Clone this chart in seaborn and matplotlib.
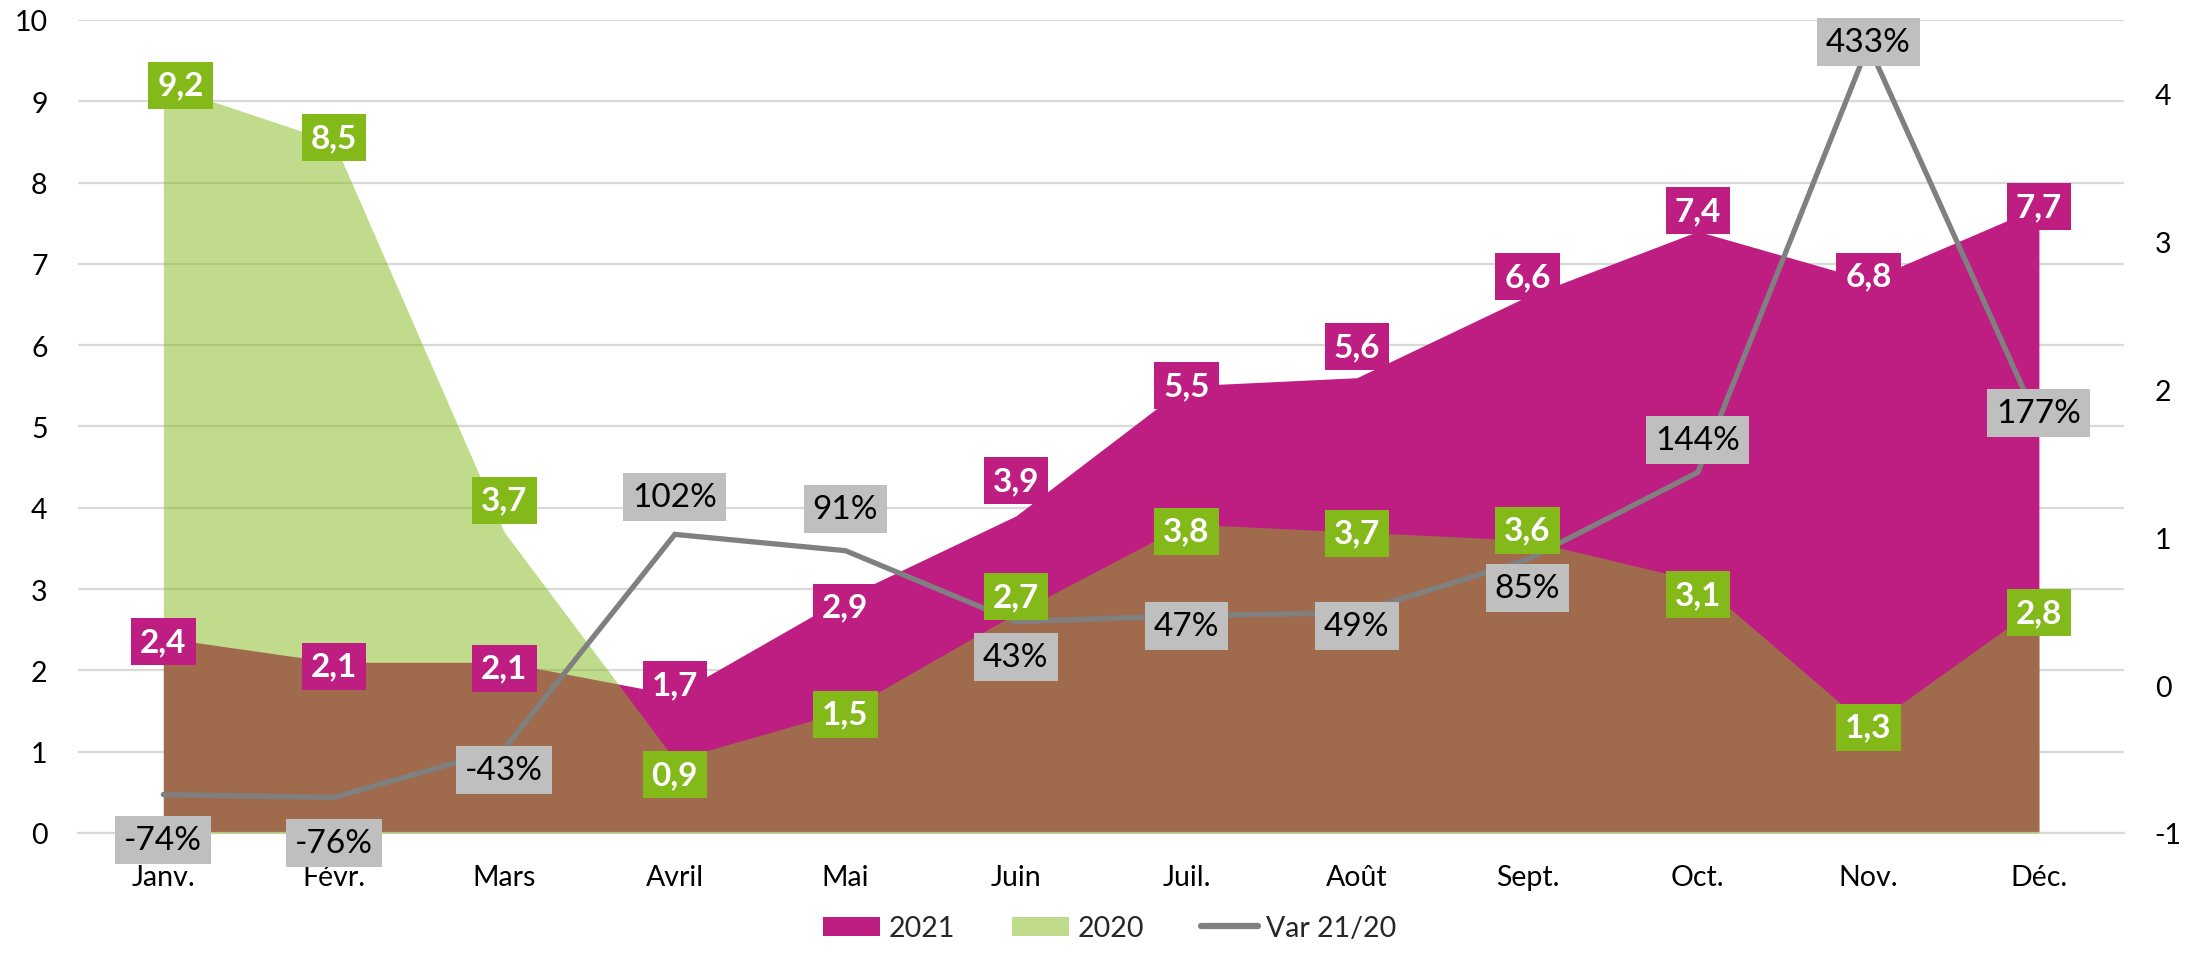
import numpy as np
import pandas as pd
import matplotlib
matplotlib.use("Agg")
import matplotlib.pyplot as plt
from matplotlib.patches import Patch
from matplotlib.lines import Line2D
import seaborn as sns

# données
mois = ['Janv.', 'Févr.', 'Mars', 'Avril', 'Mai', 'Juin', 'Juil.', 'Août', 'Sept.', 'Oct.', 'Nov.', 'Déc.']
v2021 = [2.4, 2.1, 2.1, 1.7, 2.9, 3.9, 5.5, 5.6, 6.6, 7.4, 6.8, 7.7]
v2020 = [9.2, 8.5, 3.7, 0.9, 1.5, 2.7, 3.8, 3.7, 3.6, 3.1, 1.3, 2.8]
var = [-0.74, -0.76, -0.43, 1.02, 0.91, 0.43, 0.47, 0.49, 0.85, 1.44, 4.33, 1.77]

# décalage vertical des étiquettes (px, vers le haut)
dy2021 = [-4, -4, -6, 10, -10, 35, 0, 31, 20, 21, 4, 0]
dy2020 = [0, 4, 32, -15, -3, 17, -7, -1, 10, -14, 0, -7]
dyvar = [-45, -45, -21, 37, 42, -35, -10, -13, -28, 32, 3, 11]

MAG = '#BE1E82'
VERT = '#84B91A'
GRIS = '#808080'
GRILLE = '#D9D9D9'

sns.set_theme(style='white')
plt.rcParams['font.family'] = ['Lato', 'DejaVu Sans']
plt.rcParams['axes.unicode_minus'] = False

df = pd.DataFrame({'x': np.arange(len(mois)), 'mois': mois,
                   'v2021': v2021, 'v2020': v2020, 'var': var})

fig = plt.figure(figsize=(22.06, 9.54), dpi=100)
ax = fig.add_axes([0.0354, 0.1258, 0.9275, 0.8522])

ax.fill_between(df['x'], 0, df['v2021'], color=MAG, lw=0, zorder=2)
ax.fill_between(df['x'], 0, df['v2020'], color=VERT, alpha=0.5, lw=0, zorder=3)

ax.set_xlim(-0.5, 11.5)
ax.set_ylim(0, 10)
ax.set_yticks(range(0, 11))
ax.set_axisbelow(True)
ax.yaxis.grid(True, color=GRILLE, lw=1.6)
ax.set_xticks(df['x'])
ax.set_xticklabels(mois)
ax.set_xticks(np.arange(-0.5, 12, 1), minor=True)
ax.tick_params(axis='x', which='major', length=0, pad=22, labelsize=20.5, colors='black')
ax.tick_params(axis='x', which='minor', length=7, width=1.6, color=GRILLE)
ax.tick_params(axis='y', length=0, pad=22, labelsize=20.5, colors='black')
for s in ['left', 'right', 'top']:
    ax.spines[s].set_visible(False)
ax.spines['bottom'].set_color(GRILLE)
ax.spines['bottom'].set_linewidth(1.6)

ax2 = ax.twinx()
sns.lineplot(data=df, x='x', y='var', ax=ax2, color=GRIS, linewidth=3.8,
             legend=False, solid_capstyle='round', solid_joinstyle='miter')
ax2.set_ylim(-1, 4.5)
ax2.set_yticks(range(-1, 5))
ax2.tick_params(axis='y', length=0, pad=22, labelsize=20.5, colors='black')
ax2.set_ylabel('')
ax2.set_xlabel('')
for s in ax2.spines.values():
    s.set_visible(False)

# étiquettes de données
def fr(v):
    return f"{v:.1f}".replace('.', ',')

for i in range(len(mois)):
    ax2.annotate(fr(v2021[i]), xy=(i, v2021[i]), xycoords=ax.transData,
                 xytext=(0, dy2021[i]), textcoords='offset pixels',
                 ha='center', va='center', fontsize=24, fontweight='bold', color='white',
                 bbox=dict(boxstyle='square,pad=0.27', fc=MAG, ec='none'), zorder=5)
    ax2.annotate(fr(v2020[i]), xy=(i, v2020[i]), xycoords=ax.transData,
                 xytext=(17 if i == 0 else 0, dy2020[i]), textcoords='offset pixels',
                 ha='center', va='center', fontsize=24, fontweight='bold', color='white',
                 bbox=dict(boxstyle='square,pad=0.27', fc=VERT, ec='none'), zorder=5)
    ax2.annotate(f"{round(var[i] * 100)}%", xy=(i, var[i]), xycoords='data',
                 xytext=(0, dyvar[i]), textcoords='offset pixels',
                 ha='center', va='center', fontsize=24, color='black',
                 bbox=dict(boxstyle='square,pad=0.27', fc='#BFBFBF', ec='none'), zorder=6)

handles = [Patch(facecolor=MAG, edgecolor='none'),
           Patch(facecolor=VERT, alpha=0.5, edgecolor='none'),
           Line2D([0], [0], color=GRIS, lw=4.5, solid_capstyle='round')]
fig.legend(handles, ['2021', '2020', 'Var 21/20'], loc='center', bbox_to_anchor=(0.503, 0.026),
           ncol=3, frameon=False, fontsize=20.5, handlelength=2.0, handleheight=0.65,
           handletextpad=0.3, columnspacing=2.0)

fig.savefig('out.png', dpi=100, facecolor='white')
